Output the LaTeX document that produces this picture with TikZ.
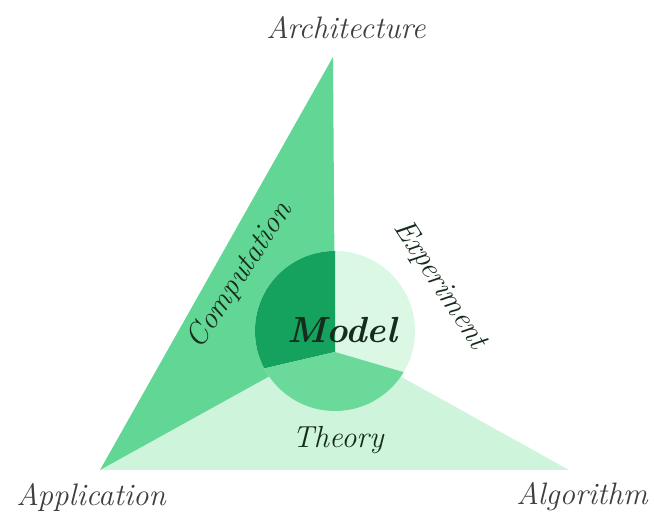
\documentclass[tikz,border=0pt]{standalone}
\usepackage{tikz}
\usetikzlibrary{calc}
\definecolor{compgreen}{RGB}{98,214,148}
\definecolor{theorygreen}{RGB}{206,245,219}
\definecolor{darkgreen}{RGB}{20,162,94}
\definecolor{midgreen}{RGB}{106,217,153}
\definecolor{palegreen}{RGB}{218,248,228}
\definecolor{labelgray}{RGB}{62,62,62}
\definecolor{inkgreen}{RGB}{22,44,28}
\tikzset{corner label/.style={font=\fontsize{26.5}{30}\selectfont\itshape, text=labelgray, inner sep=1pt},
side label/.style={font=\fontsize{26}{30}\selectfont\itshape, text=inkgreen, inner sep=1pt}}

\begin{document}
\begin{tikzpicture}
\useasboundingbox (0,0) rectangle (19.62,15.6);
\coordinate (A) at (9.99,13.89);
\coordinate (P) at (3.0,1.5);
\coordinate (Q) at (17.07,1.5);
\coordinate (C) at (10.05,5.4);
\coordinate (O) at (10.05,5.67);
\coordinate (V) at (10.05,5.04);
\coordinate (L) at (7.86,4.53);
\coordinate (R) at (12.3,4.38);
% triangles
\fill[theorygreen] (P) -- (Q) -- (C) -- cycle;
\fill[compgreen] (A) -- (P) -- (C) -- cycle;
% model circle
\fill[palegreen] (O) circle (2.4);
\begin{scope}
\clip (O) circle (2.4);
\fill[darkgreen] (V) -- ($(V)+(0,4)$) -- ($(V)+(-4,4)$) -- ($(V)!4!(L)$) -- cycle;
\fill[midgreen] (V) -- ($(V)!4!(L)$) -- ($(V)+(0,-4)$) -- ($(V)!4!(R)$) -- cycle;
\end{scope}
% labels
\node[corner label] (arch) at (10.38,14.76) {Architecture};
\node[corner label] (appl) at (2.73,0.69) {Application};
\node[corner label] (algo) at (17.46,0.69) {Algorithm};
\node[side label, rotate=57] (comp) at (7.2,7.32) {Computation};
\node[side label, rotate=-57] (expe) at (13.2,7.05) {Experiment};
\node[side label] (theo) at (10.14,2.4) {Theory};
\node[side label, font=\fontsize{31}{35}\selectfont\bfseries\itshape] (model) at (10.26,5.7) {Model};
\end{tikzpicture}
\end{document}
